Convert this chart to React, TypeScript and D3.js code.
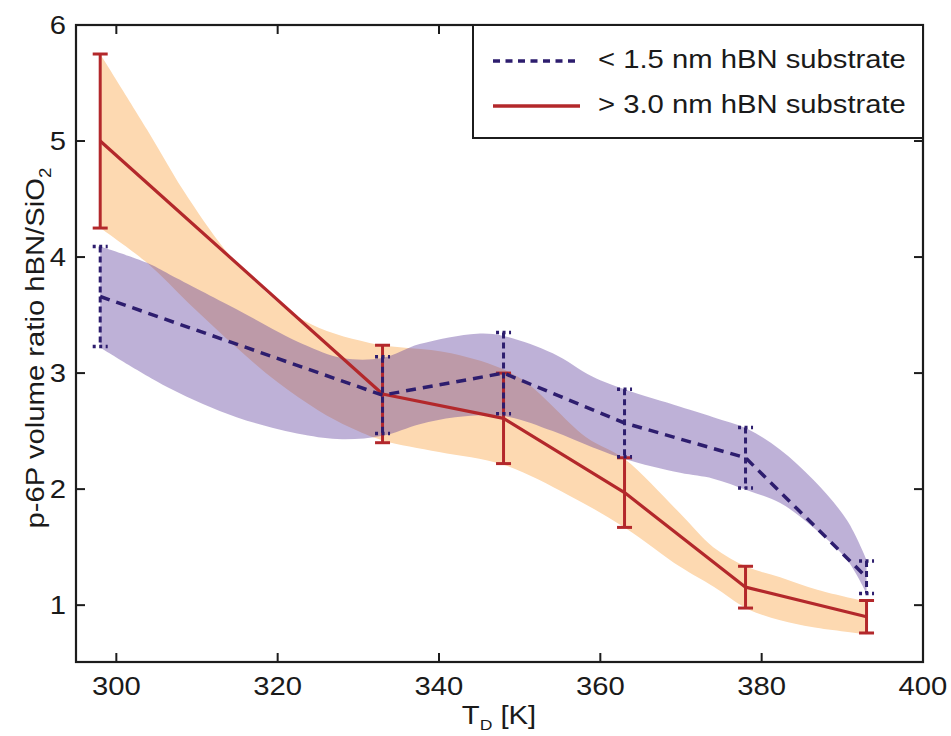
import React from 'react';
import * as d3 from 'd3';

// ---- data ----
const temps = [298, 333, 348, 363, 378, 393];
const thinMean = [3.66, 2.81, 3.0, 2.57, 2.27, 1.24];
const thinErr = [0.43, 0.33, 0.35, 0.29, 0.26, 0.14];
const thickMean = [5.0, 2.82, 2.61, 1.97, 1.155, 0.9];
const thickErr = [0.75, 0.42, 0.39, 0.3, 0.18, 0.14];

// shaded bands (edges)
const thickUpperT = [298, 303.8, 309, 314.9, 323.1, 331.4, 341.5, 349.7, 358.2, 363, 369.9, 374, 378.2, 382.3, 387, 393];
const thickUpperV = [5.75, 5.1, 4.5, 3.95, 3.46, 3.26, 3.17, 2.97, 2.45, 2.26, 1.79, 1.5, 1.33, 1.24, 1.13, 1.03];
const thickLowerT = [298, 303.8, 309, 314.9, 320, 325, 329, 333, 340, 348, 356, 363, 369.9, 374, 378.2, 382.3, 386.4, 393];
const thickLowerV = [4.25, 3.95, 3.6, 3.22, 2.92, 2.68, 2.53, 2.42, 2.32, 2.21, 1.95, 1.67, 1.33, 1.16, 0.97, 0.87, 0.81, 0.75];

const thinUpperT = [298, 303.8, 306.6, 314.9, 323.1, 328, 333, 337.6, 344.7, 348, 354.1, 359, 363, 369.9, 374, 378.2, 382.3, 386.4, 390.6, 393];
const thinUpperV = [4.09, 3.95, 3.85, 3.55, 3.25, 3.13, 3.13, 3.25, 3.34, 3.32, 3.17, 2.97, 2.86, 2.71, 2.62, 2.52, 2.34, 2.08, 1.73, 1.39];
const thinLowerT = [298, 306.6, 314.9, 323.1, 328, 333, 337.6, 342, 348, 354.1, 359, 363, 369.9, 374, 378.2, 382.3, 386.4, 390.6, 393];
const thinLowerV = [3.22, 2.87, 2.62, 2.47, 2.43, 2.46, 2.56, 2.62, 2.63, 2.5, 2.36, 2.26, 2.14, 2.09, 1.99, 1.88, 1.67, 1.39, 1.1];

const xTicks = [300, 320, 340, 360, 380, 400];
const yTicks = [1, 2, 3, 4, 5, 6];
const legendLabels = ['< 1.5 nm hBN substrate', '> 3.0 nm hBN substrate'];

// ---- layout ----
const W = 951, H = 736;
const L = 76, R = 923, T = 25, B = 662;
const FONT = "'Liberation Sans', Arial, Helvetica, sans-serif";
const SX = 1.17;

const RED = '#b3282b';
const BLUE = '#2d1d6e';
const AXIS = '#1c1c1c';

const x = d3.scaleLinear().domain([295, 400]).range([L, R]);
const y = d3.scaleLinear().domain([0.51, 6]).range([B, T]);

const lineGen = d3.line<[number, number]>()
  .x(d => x(d[0]))
  .y(d => y(d[1]))
  .curve(d3.curveCatmullRom.alpha(0.5));

const plainLine = d3.line<[number, number]>().x(d => x(d[0])).y(d => y(d[1]));

function bandPath(ut: number[], uv: number[], lt: number[], lv: number[]) {
  const up = ut.map((t, i) => [t, uv[i]] as [number, number]);
  const lo = lt.map((t, i) => [t, lv[i]] as [number, number]).reverse();
  const a = lineGen(up) as string;
  const b = lineGen(lo) as string;
  return a + 'L' + b.slice(1) + 'Z';
}

function SText(props: { x: number; y: number; anchor?: string; rot?: number; size?: number; children: React.ReactNode }) {
  const { x: tx, y: ty, anchor = 'start', rot = 0, size = 25, children } = props;
  return (
    <text
      transform={`translate(${tx},${ty}) rotate(${rot}) scale(${SX},1)`}
      textAnchor={anchor}
      fontFamily={FONT}
      fontSize={size}
      fill="#1a1a1a"
    >
      {children}
    </text>
  );
}

export default function App() {
  const thickPts = temps.map((t, i) => [t, thickMean[i]] as [number, number]);
  const thinPts = temps.map((t, i) => [t, thinMean[i]] as [number, number]);
  const cap = 7.5;
  const tickLen = 9;

  return (
    <svg width={W} height={H} style={{ position: 'absolute', left: 0, top: 0, background: '#fff' }}>
      <rect x={0} y={0} width={W} height={H} fill="#fff" />

      {/* bands */}
      <path d={bandPath(thickUpperT, thickUpperV, thickLowerT, thickLowerV)} fill="#fdd9b1" />
      <path d={bandPath(thinUpperT, thinUpperV, thinLowerT, thinLowerV)} fill="rgb(92,60,155)" fillOpacity={0.4} />

      {/* thick substrate: red line + error bars */}
      <path d={plainLine(thickPts) as string} fill="none" stroke={RED} strokeWidth={3.2} strokeLinejoin="round" />
      {temps.map((t, i) => {
        const cx = x(t);
        const y1 = y(thickMean[i] + thickErr[i]);
        const y2 = y(thickMean[i] - thickErr[i]);
        return (
          <g key={'re' + i} stroke={RED} strokeWidth={3}>
            <line x1={cx} x2={cx} y1={y1} y2={y2} />
            <line x1={cx - cap} x2={cx + cap} y1={y1} y2={y1} />
            <line x1={cx - cap} x2={cx + cap} y1={y2} y2={y2} />
          </g>
        );
      })}

      {/* thin substrate: blue dashed line + dotted error bars */}
      <path d={plainLine(thinPts) as string} fill="none" stroke={BLUE} strokeWidth={3.5} strokeDasharray="10,7" />
      {temps.map((t, i) => {
        const cx = x(t);
        const y1 = y(thinMean[i] + thinErr[i]);
        const y2 = y(thinMean[i] - thinErr[i]);
        return (
          <g key={'be' + i} stroke={BLUE}>
            <line x1={cx} x2={cx} y1={y1} y2={y2} strokeWidth={3} strokeDasharray="6,4" />
            <line x1={cx - cap} x2={cx + cap} y1={y1} y2={y1} strokeWidth={3.5} strokeDasharray="3,3.5" />
            <line x1={cx - cap} x2={cx + cap} y1={y2} y2={y2} strokeWidth={3.5} strokeDasharray="3,3.5" />
          </g>
        );
      })}

      {/* axes frame & ticks */}
      <rect x={L} y={T} width={R - L} height={B - T} fill="none" stroke={AXIS} strokeWidth={2.2} />
      {xTicks.map(v => (
        <g key={'xt' + v} stroke={AXIS} strokeWidth={2}>
          <line x1={x(v)} x2={x(v)} y1={B} y2={B - tickLen} />
          <line x1={x(v)} x2={x(v)} y1={T} y2={T + tickLen} />
        </g>
      ))}
      {yTicks.map(v => (
        <g key={'yt' + v} stroke={AXIS} strokeWidth={2}>
          <line x1={L} x2={L + tickLen} y1={y(v)} y2={y(v)} />
          <line x1={R} x2={R - tickLen} y1={y(v)} y2={y(v)} />
        </g>
      ))}
      {xTicks.map(v => (
        <SText key={'xl' + v} x={x(v)} y={695} anchor="middle">{String(v)}</SText>
      ))}
      {yTicks.map(v => (
        <SText key={'yl' + v} x={66} y={y(v) + 9} anchor="end">{String(v)}</SText>
      ))}

      {/* axis titles */}
      <SText x={499} y={724} anchor="middle">
        <tspan>T</tspan>
        <tspan fontSize={15} dy={6}>D</tspan>
        <tspan dy={-6}> [K]</tspan>
      </SText>
      <SText x={44} y={348} anchor="middle" rot={-90}>
        <tspan>p-6P volume ratio hBN/SiO</tspan>
        <tspan fontSize={16} dy={7}>2</tspan>
      </SText>

      {/* legend */}
      <rect x={473} y={T} width={R - 473} height={138 - T} fill="#fff" stroke={AXIS} strokeWidth={2} />
      <line x1={493} x2={580} y1={61} y2={61} stroke={BLUE} strokeWidth={3.5} strokeDasharray="7,5.5" />
      <line x1={493} x2={580} y1={106} y2={106} stroke={RED} strokeWidth={3.5} />
      <SText x={598} y={68}>{legendLabels[0]}</SText>
      <SText x={598} y={113}>{legendLabels[1]}</SText>
    </svg>
  );
}
